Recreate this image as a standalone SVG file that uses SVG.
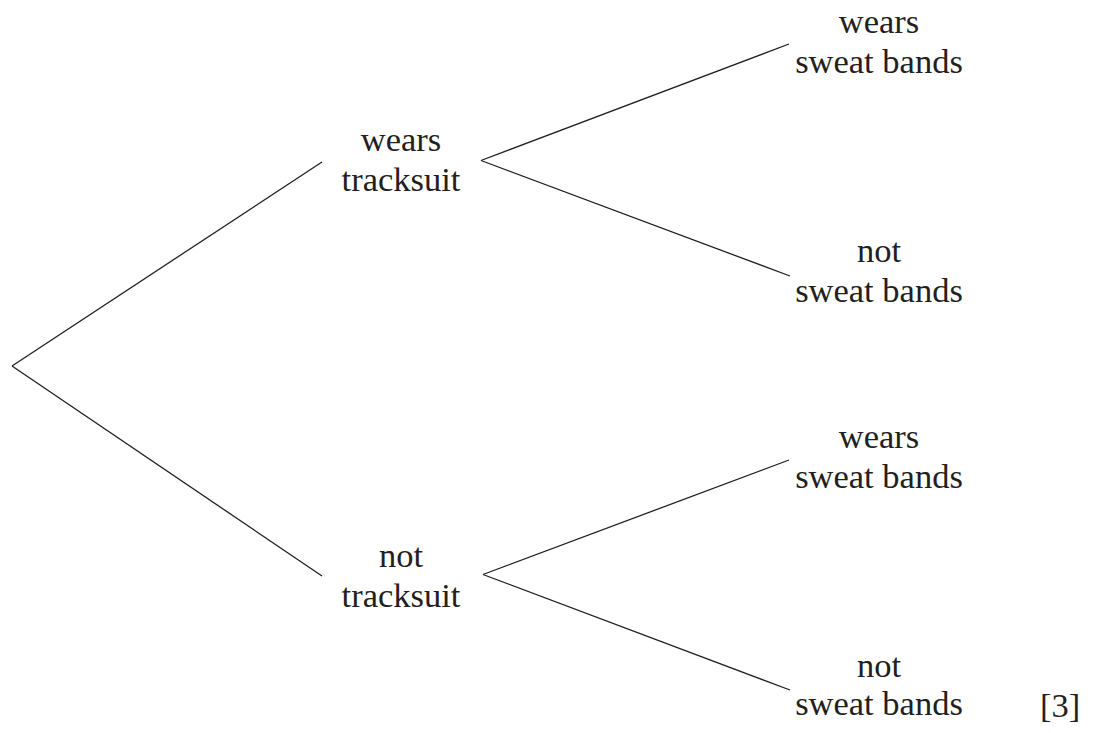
<svg xmlns="http://www.w3.org/2000/svg" width="1098" height="733" viewBox="0 0 1098 733">
  <style>
    .edge { stroke: #231f20; stroke-width: 1.3; fill: none; }
    .lbl { font-family: "Liberation Serif", "Times New Roman", serif; font-size: 34.5px; fill: #231f20; text-anchor: middle; }
    .mark { font-family: "Liberation Serif", "Times New Roman", serif; font-size: 34.5px; fill: #231f20; }
  </style>
  <rect width="1098" height="733" fill="#ffffff"/>
  <g id="connectors">
    <line class="edge" x1="12" y1="366" x2="322" y2="162"/>
    <line class="edge" x1="12" y1="366" x2="322" y2="576"/>
    <line class="edge" x1="481" y1="160.5" x2="789" y2="44"/>
    <line class="edge" x1="481" y1="160.5" x2="790" y2="276"/>
    <line class="edge" x1="483" y1="574.5" x2="789" y2="460"/>
    <line class="edge" x1="483" y1="574.5" x2="790" y2="690"/>
  </g>
  <g id="node-wears-tracksuit">
    <text class="lbl" x="401" y="151">wears</text>
    <text class="lbl" x="401" y="191">tracksuit</text>
  </g>
  <g id="node-not-tracksuit">
    <text class="lbl" x="401" y="567">not</text>
    <text class="lbl" x="401" y="607">tracksuit</text>
  </g>
  <g id="node-ww">
    <text class="lbl" x="879" y="33">wears</text>
    <text class="lbl" x="879" y="73">sweat bands</text>
  </g>
  <g id="node-wn">
    <text class="lbl" x="879" y="262">not</text>
    <text class="lbl" x="879" y="302">sweat bands</text>
  </g>
  <g id="node-nw">
    <text class="lbl" x="879" y="448">wears</text>
    <text class="lbl" x="879" y="488">sweat bands</text>
  </g>
  <g id="node-nn">
    <text class="lbl" x="879" y="677">not</text>
    <text class="lbl" x="879" y="715">sweat bands</text>
  </g>
  <text class="mark" x="1040" y="717">[3]</text>
</svg>
